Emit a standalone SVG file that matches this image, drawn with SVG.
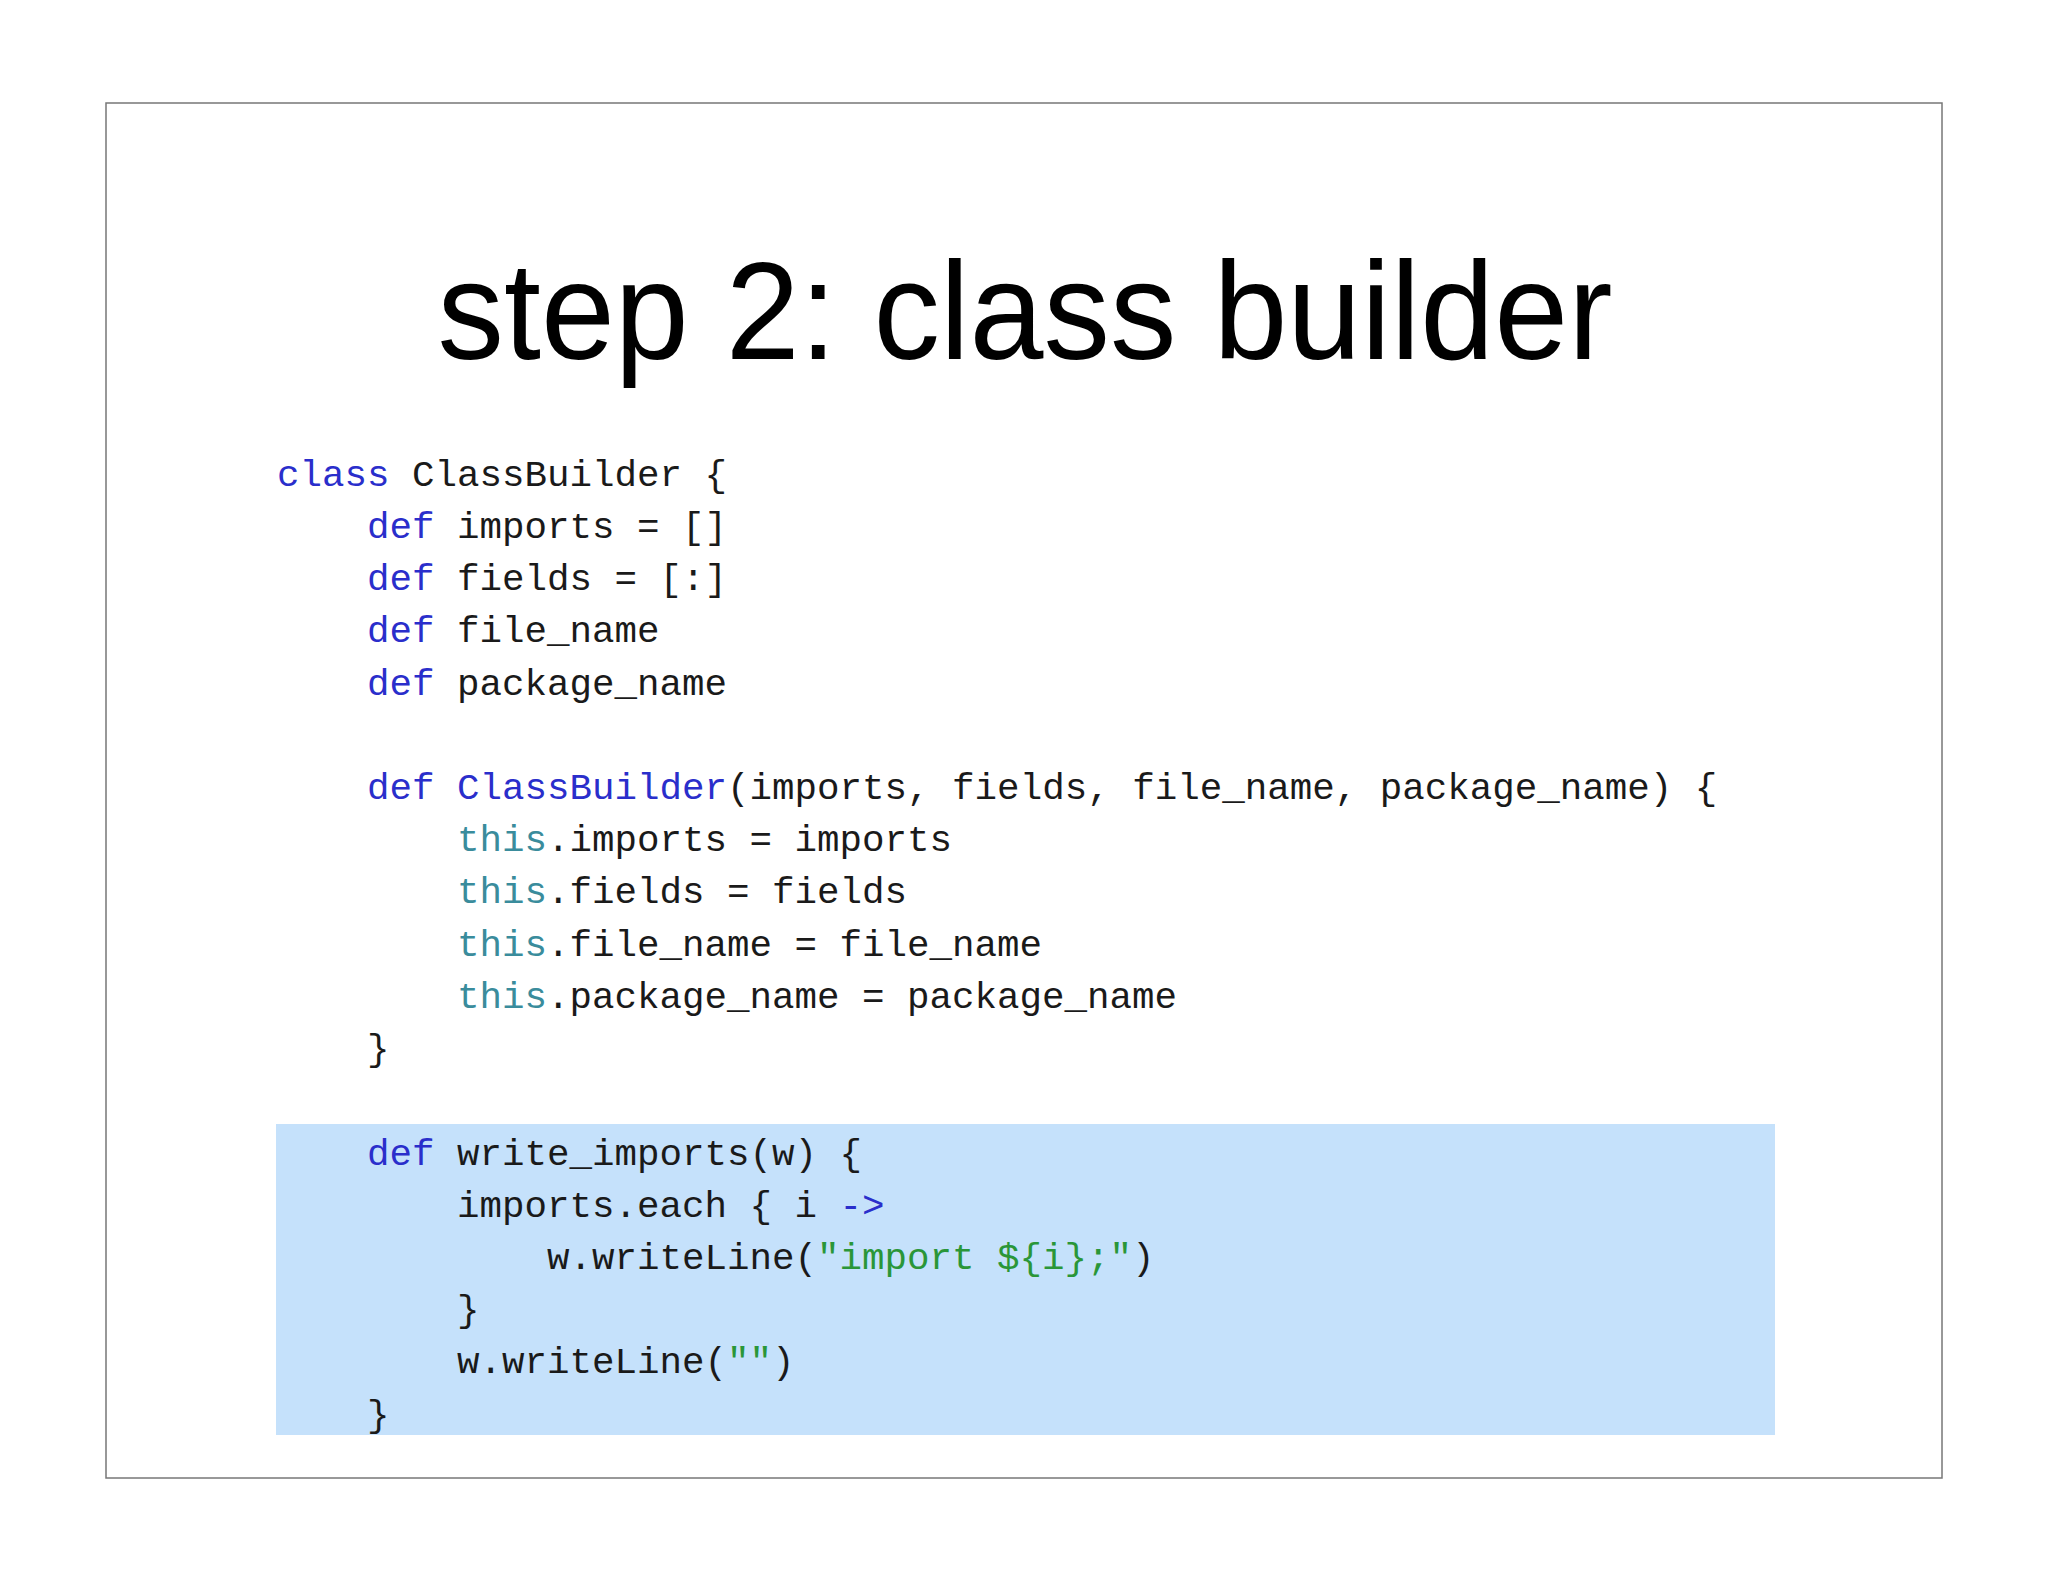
<svg xmlns="http://www.w3.org/2000/svg" width="2048" height="1582" viewBox="0 0 2048 1582">
<style>
.c{font-family:"Liberation Mono","DejaVu Sans Mono",monospace;font-size:37.5px;fill:#1a1a1a;white-space:pre}
.k{fill:#2a2ecb}.t{fill:#3a8c9c}.s{fill:#2a9638}
</style>
<rect width="2048" height="1582" fill="#fff"/>
<rect x="106" y="103" width="1836" height="1375" fill="#fff" stroke="#777" stroke-width="1.5"/>
<text x="1025" y="359" text-anchor="middle" font-family="'Liberation Sans',sans-serif" font-size="140" textLength="1175" lengthAdjust="spacingAndGlyphs" fill="#000">step 2: class builder</text>
<rect x="276" y="1124" width="1499" height="311" fill="#c5e1fb"/>
<g class="c" xml:space="preserve">
<text x="277" y="486"><tspan class="k">class</tspan> ClassBuilder {</text>
<text x="367" y="538"><tspan class="k">def</tspan> imports = []</text>
<text x="367" y="590"><tspan class="k">def</tspan> fields = [:]</text>
<text x="367" y="642"><tspan class="k">def</tspan> file_name</text>
<text x="367" y="695"><tspan class="k">def</tspan> package_name</text>
<text x="367" y="799"><tspan class="k">def</tspan> <tspan class="k">ClassBuilder</tspan>(imports, fields, file_name, package_name) {</text>
<text x="457" y="851"><tspan class="t">this</tspan>.imports = imports</text>
<text x="457" y="903"><tspan class="t">this</tspan>.fields = fields</text>
<text x="457" y="956"><tspan class="t">this</tspan>.file_name = file_name</text>
<text x="457" y="1008"><tspan class="t">this</tspan>.package_name = package_name</text>
<text x="367" y="1060">}</text>
<text x="367" y="1165"><tspan class="k">def</tspan> write_imports(w) {</text>
<text x="457" y="1217">imports.each { i <tspan class="k">-&gt;</tspan></text>
<text x="547" y="1269">w.writeLine(<tspan class="s">"import ${i};"</tspan>)</text>
<text x="457" y="1321">}</text>
<text x="457" y="1373">w.writeLine(<tspan class="s">""</tspan>)</text>
<text x="367" y="1426">}</text>
</g>
</svg>
